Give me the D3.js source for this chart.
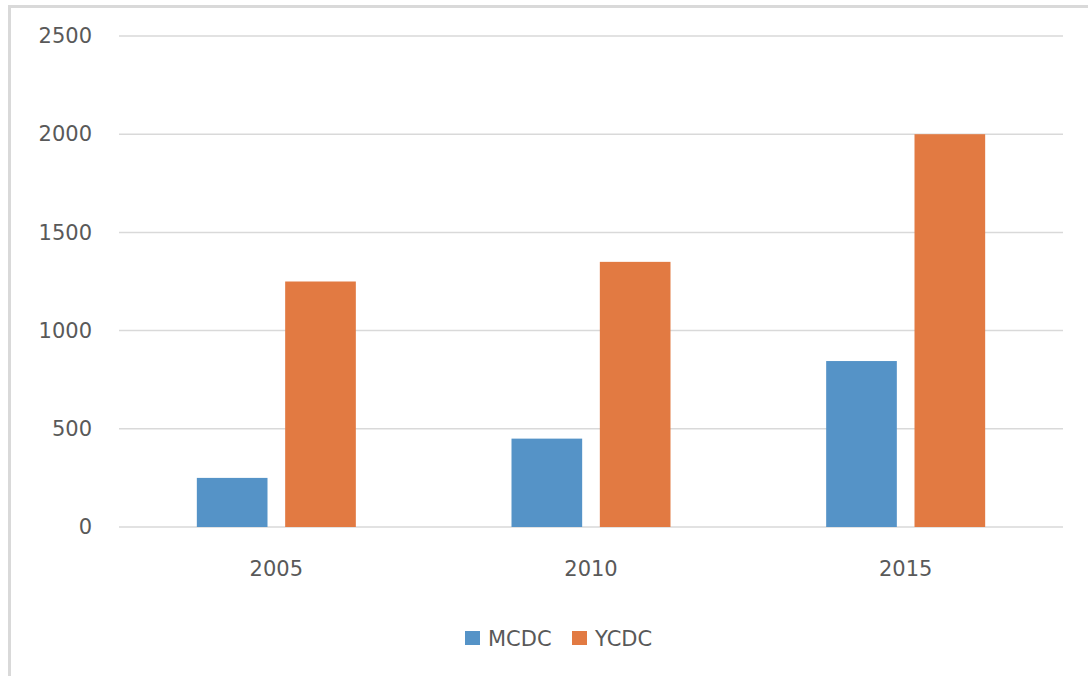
<!DOCTYPE html>
<html>
<head>
<meta charset="utf-8">
<script src="https://cdn.jsdelivr.net/npm/d3@7"></script>
<style>
  html, body { margin: 0; padding: 0; background: #fff; }
  svg { display: block; }
  text { font-family: "DejaVu Sans", sans-serif; fill: #595959; }
</style>
</head>
<body>
<svg id="chart" width="1088" height="676"></svg>
<script>
const categories = ["2005", "2010", "2015"];
const seriesNames = ["MCDC", "YCDC"];
const mcdc = [250, 450, 845];
const ycdc = [1250, 1350, 2000];
const yTicks = [0, 500, 1000, 1500, 2000, 2500];
const colors = ["#5593c7", "#e27a42"];

const svg = d3.select("#chart");
const W = 1088, H = 676;
const m = { left: 119, right: 1063, top: 36, bottom: 527 };
const FS = 21;

// outer border (chart area, cropped at right/bottom)
svg.append("rect")
  .attr("x", 9.5).attr("y", 6.5)
  .attr("width", W + 20).attr("height", H + 20)
  .attr("fill", "none").attr("stroke", "#d9d9d9").attr("stroke-width", 3);

const x = d3.scaleBand().domain(categories).range([m.left, m.right]);
const xInner = d3.scaleBand().domain(seriesNames)
  .range([0, 159]).paddingInner(0.2);
const y = d3.scaleLinear().domain([0, 2500]).range([m.bottom, m.top]);

// gridlines
svg.append("g").selectAll("line").data(yTicks).join("line")
  .attr("x1", m.left).attr("x2", m.right)
  .attr("y1", d => y(d)).attr("y2", d => y(d))
  .attr("stroke", "#d9d9d9").attr("stroke-width", 1.5);

// y axis labels
const yAxis = d3.axisLeft(y).tickValues(yTicks).tickFormat(d3.format("d")).tickSize(0).tickPadding(0);
const gy = svg.append("g").attr("transform", `translate(92,0)`).call(yAxis);
gy.select(".domain").remove();
gy.selectAll("text").attr("font-size", FS).style("font-family", "DejaVu Sans, sans-serif").attr("fill", "#595959");

// x axis labels
const xAxis = d3.axisBottom(x).tickSize(0).tickPadding(0);
const gx = svg.append("g").attr("transform", `translate(0,${m.bottom + 34})`).call(xAxis);
gx.select(".domain").remove();
gx.selectAll("text").attr("font-size", FS).style("font-family", "DejaVu Sans, sans-serif").attr("fill", "#595959");

// bars
const data = categories.map((c, i) => ({ cat: c, vals: [mcdc[i], ycdc[i]] }));
const groups = svg.append("g").selectAll("g").data(data).join("g")
  .attr("transform", d => `translate(${x(d.cat) + x.bandwidth() / 2 - 79.5},0)`);
groups.selectAll("rect").data(d => d.vals.map((v, j) => ({ s: seriesNames[j], v, j })))
  .join("rect")
  .attr("x", d => xInner(d.s))
  .attr("width", xInner.bandwidth())
  .attr("y", d => y(d.v))
  .attr("height", d => y(0) - y(d.v))
  .attr("fill", d => colors[d.j]);

// legend
const legend = svg.append("g").attr("transform", "translate(465,631)");
const items = [{ name: "MCDC", x: 0, c: colors[0] }, { name: "YCDC", x: 107, c: colors[1] }];
const li = legend.selectAll("g").data(items).join("g").attr("transform", d => `translate(${d.x},0)`);
li.append("rect").attr("width", 15).attr("height", 14).attr("fill", d => d.c);
li.append("text").attr("x", 23).attr("y", 7).attr("dy", "0.36em")
  .attr("font-size", FS).text(d => d.name);
</script>
</body>
</html>
